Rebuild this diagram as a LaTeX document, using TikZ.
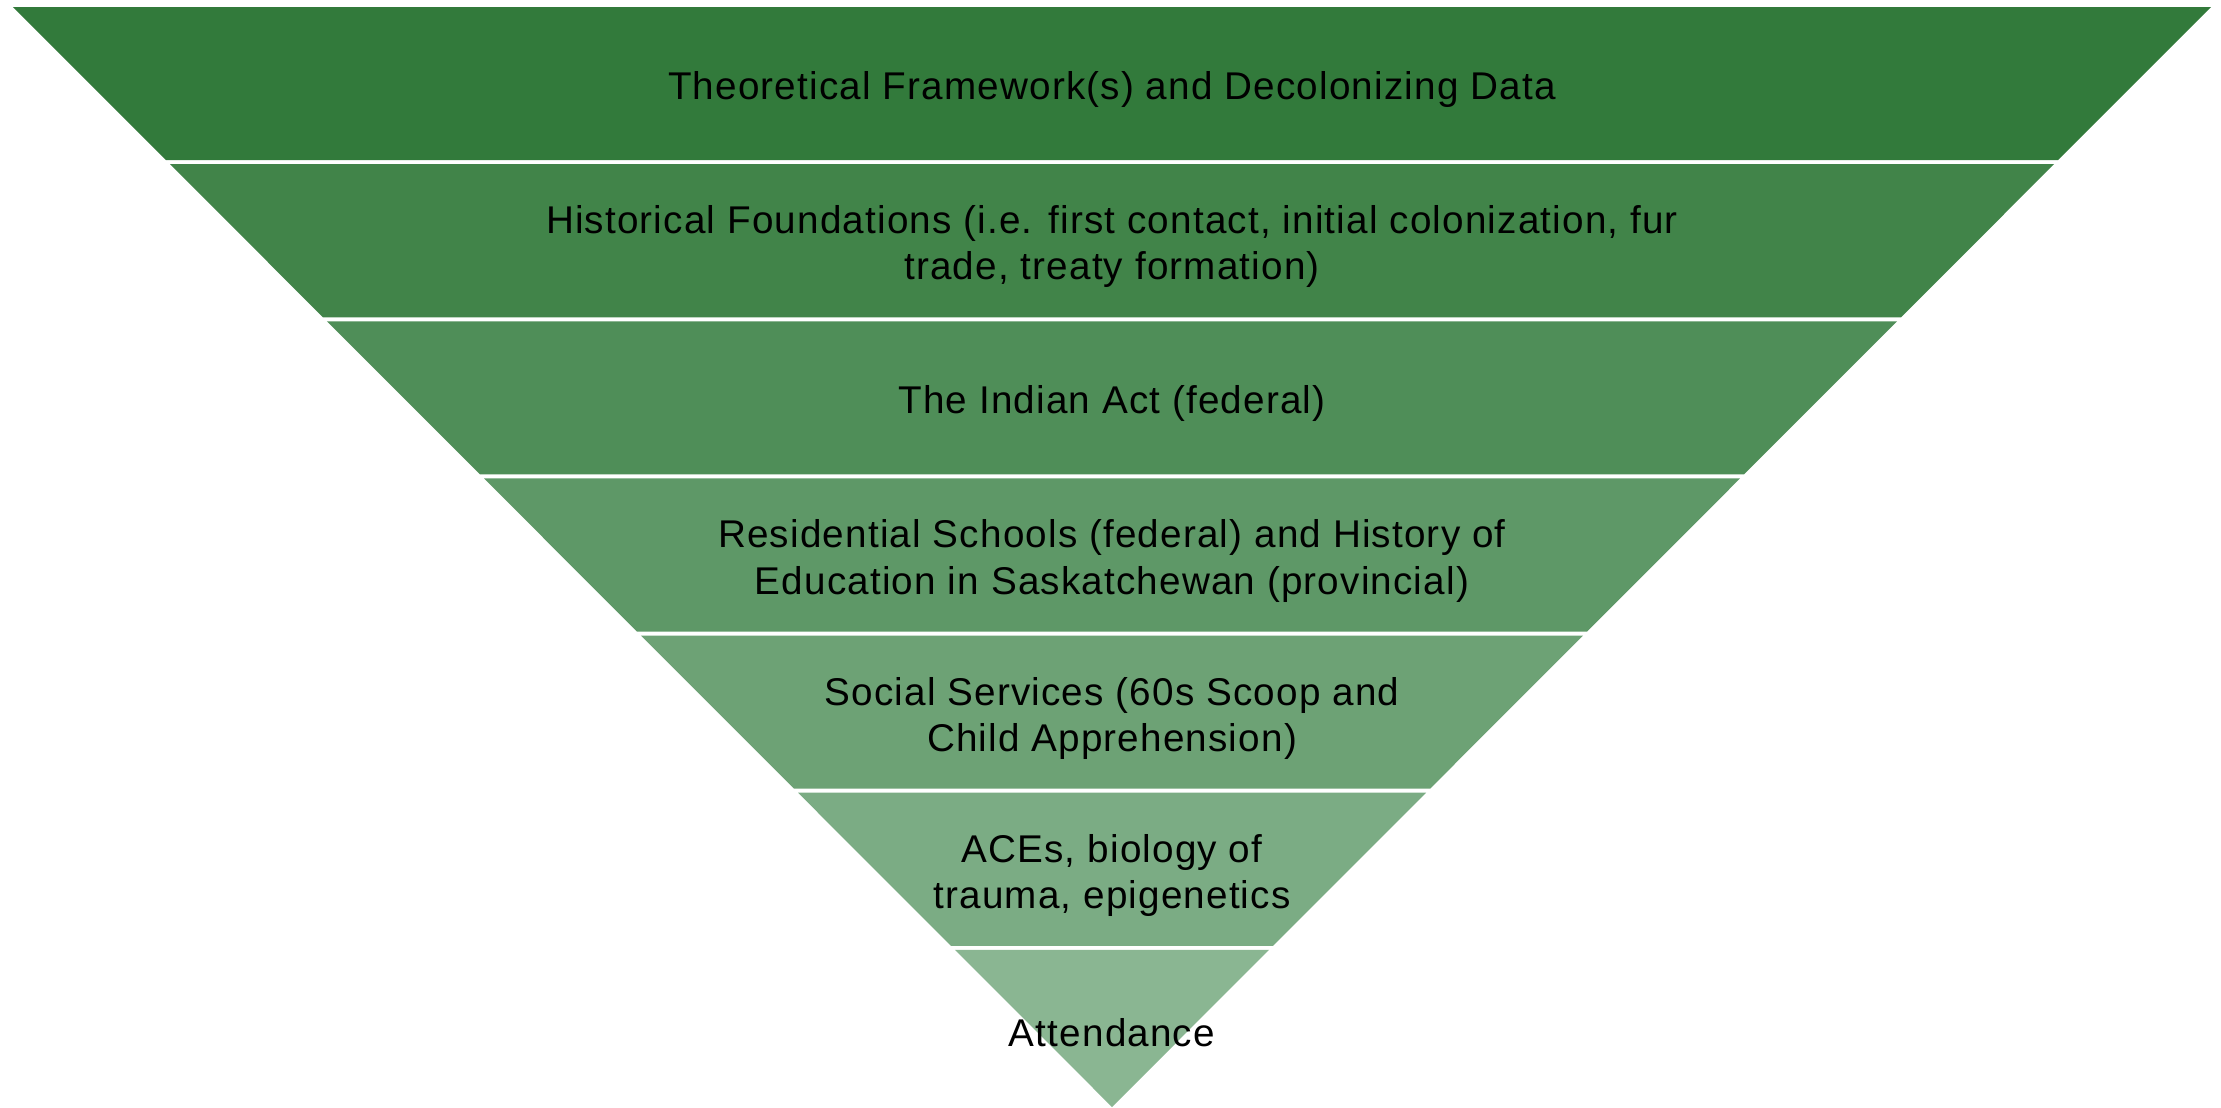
\documentclass[tikz,border=0pt]{standalone}
\usepackage{fontspec}
\setmainfont[LetterSpace=3]{Liberation Sans}
\usetikzlibrary{positioning}

\definecolor{bandtop}{RGB}{50,122,59}
\definecolor{bandbot}{RGB}{138,182,146}
\tikzset{
  bandtext/.style={align=center, text=black, font=\fontsize{11pt}{13.1pt}\selectfont},
}

\begin{document}
\begin{tikzpicture}[y=-1cm]
  \useasboundingbox (0,0) rectangle (22.21,11.07);
  \foreach \i/\txt in {
      1/{Theoretical Framework(s) and Decolonizing Data},
      2/{Historical Foundations (i.e. first contact, initial colonization, fur\\trade, treaty formation)},
      3/{The Indian Act (federal)},
      4/{Residential Schools (federal) and History of\\Education in Saskatchewan (provincial)},
      5/{Social Services (60s Scoop and\\Child Apprehension)},
      6/{ACEs, biology of\\trauma, epigenetics},
      7/{Attendance}} {
    \pgfmathsetmacro\yt{0.07+1.5714*(\i-1)}
    \pgfmathsetmacro\yb{\yt+1.5714-0.04*(\i<7)}
    \pgfmathsetmacro\wt{10.99*(11.07-\yt)/11.0}
    \pgfmathsetmacro\wb{10.99*(11.07-\yb)/11.0}
    \pgfmathsetmacro\mixpct{100-100*(\i-1)/6}
    \fill[bandtop!\mixpct!bandbot] (11.12-\wt,\yt) -- (11.12+\wt,\yt)
      -- (11.12+\wb,\yb) -- (11.12-\wb,\yb) -- cycle; % band \i
    \node[bandtext] (band\i) at (11.12,{\yt+0.8257}) {\txt};
  }
\end{tikzpicture}
\end{document}
